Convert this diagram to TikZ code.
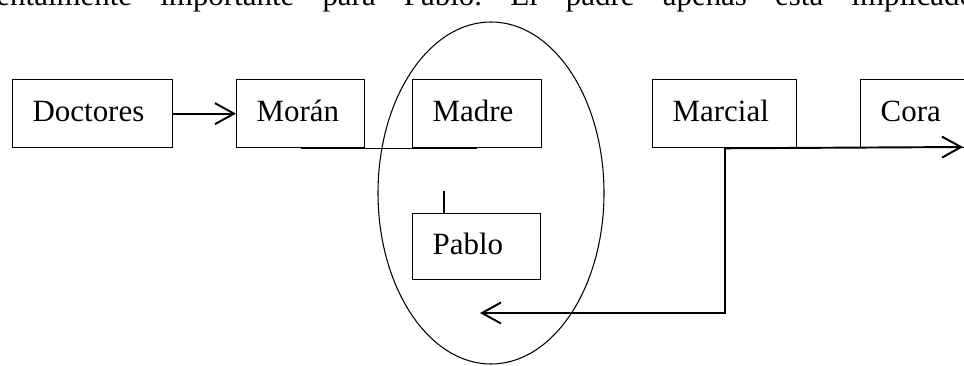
\documentclass[tikz,border=0pt]{standalone}
\usepackage{fontspec}
\setmainfont{Liberation Serif}
\usetikzlibrary{arrows.meta}
\usetikzlibrary{shapes.geometric}

\tikzset{
	caja/.style={draw, rectangle, anchor=north west, line width=0.75pt, minimum height=1.36cm, inner xsep=0.4cm, inner ysep=0pt, text height=0.45cm, text depth=0.15cm, align=left, font=\fontsize{17.6}{21}\selectfont},
	flecha/.style={line width=1.1pt, line join=miter, -{Straight Barb[length=0.38cm,width=0.42cm]}},
	linea/.style={line width=0.9pt},
	fina/.style={line width=0.6pt}
}

\begin{document}
\begin{tikzpicture}
		\useasboundingbox (0,0) rectangle (19.28,7.3);
		\clip (0,0) rectangle (19.28,7.3);
		\draw (-1.96,7.18) node[anchor=base west, inner sep=0pt, outer sep=0pt](renglon){\fontsize{17.6}{21}\selectfont\frenchspacing\makebox[21.46cm][s]{fundamentalmente importante para Pablo. El padre apenas está implicado}};
		\draw (9.82,3.44) node[shape=ellipse, draw, line width=0.6pt, inner sep=0pt, minimum width=4.52cm, minimum height=6.84cm](grupo){};

		\draw (0.24,5.72) node[caja, text width=2.4cm](doctores){Doctores};
		\draw (4.72,5.72) node[caja, text width=1.76cm](moran){Morán};
		\draw (8.24,5.72) node[caja, text width=1.78cm](madre){Madre};
		\draw (8.24,3.04) node[caja, text width=1.76cm, minimum height=1.32cm](pablo){Pablo};
		\draw (13.04,5.72) node[caja, text width=2.08cm](marcial){Marcial};
		\draw (17.2,5.72) node[caja, text width=1.5cm](cora){Cora};

		\coordinate (pabloarriba) at (8.88,3.48);
		\coordinate (derecha) at (19.26,4.36);
		\coordinate (punta) at (9.6,1.04);

		\draw[flecha] (doctores) -- (moran);
		\draw[linea] (moran.south) -- (madre.south);
		\draw[fina] (pabloarriba) -- (pabloarriba |- pablo.north);
		\draw[flecha] (marcial.south) -- (derecha);
		\draw[flecha] (marcial.south) |- (punta);

\end{tikzpicture}
\end{document}
